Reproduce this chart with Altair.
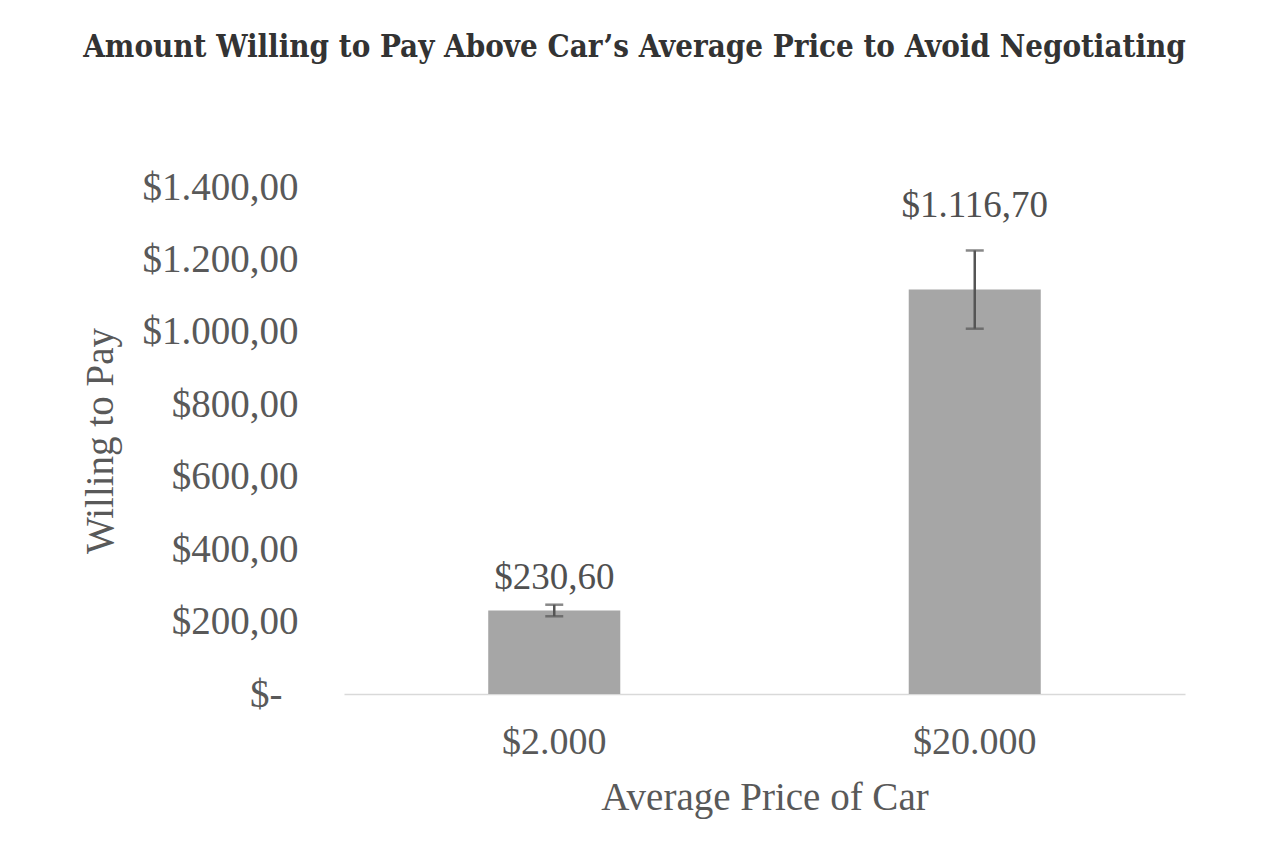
import altair as alt
import pandas as pd

categories = ["$2.000", "$20.000"]
values = [230.60, 1116.70]
errors = [16, 108]

def fmt(v):
    s = f"{v:,.2f}"
    return "$" + s.replace(",", "#").replace(".", ",").replace("#", ".")

df = pd.DataFrame({
    "cat": categories,
    "val": values,
    "lo": [v - e for v, e in zip(values, errors)],
    "hi": [v + e for v, e in zip(values, errors)],
    "label": [fmt(v) for v in values],
})

SERIF = "Liberation Serif"
AX = "#595959"

x = alt.X("cat:N", sort=categories, title="Average Price of Car",
          scale=alt.Scale(paddingInner=0.686, paddingOuter=0.343),
          axis=alt.Axis(labelAngle=0, labelFont=SERIF, labelFontSize=38, labelColor=AX,
                        labelPadding=29, ticks=False, domainColor="#d9d9d9", domainWidth=1.5,
                        titleFont=SERIF, titleFontSize=39, titleFontWeight="normal",
                        titleColor=AX, titleY=103, titleBaseline="middle"))

y = alt.Y("val:Q", title="Willing to Pay",
          scale=alt.Scale(domain=[0, 1400], nice=False),
          axis=alt.Axis(values=[0, 200, 400, 600, 800, 1000, 1200, 1400],
                        labelExpr="datum.value == 0 ? '$-' : '$' + replace(replace(replace(format(datum.value, ',.2f'), ',', '#'), '.', ','), '#', '.')",
                        labelFont=SERIF, labelFontSize=39, labelColor=AX,
                        labelPadding={"condition": {"test": "datum.value == 0", "value": 62}, "value": 46},
                        ticks=False, domain=False, grid=False,
                        titleFont=SERIF, titleFontSize=39, titleFontWeight="normal",
                        titleColor=AX, titleX=-244, titleBaseline="middle"))

base = alt.Chart(df)

bars = base.mark_bar(color="#a6a6a6").encode(x=x, y=y)
rules = base.mark_rule(color="#555555", strokeWidth=2.5).encode(
    x=alt.X("cat:N", sort=categories), y="lo:Q", y2="hi:Q")
caps_lo = base.mark_tick(color="#555555", thickness=2.5, size=18, orient="horizontal").encode(
    x=alt.X("cat:N", sort=categories), y="lo:Q")
caps_hi = base.mark_tick(color="#555555", thickness=2.5, size=18, orient="horizontal").encode(
    x=alt.X("cat:N", sort=categories), y="hi:Q")
lab1 = base.transform_filter(alt.datum.cat == categories[0]).mark_text(
    font=SERIF, fontSize=37, color="#505050", baseline="alphabetic", dy=-16).encode(
    x=alt.X("cat:N", sort=categories), y="hi:Q", text="label:N")
lab2 = base.transform_filter(alt.datum.cat == categories[1]).mark_text(
    font=SERIF, fontSize=37, color="#505050", baseline="alphabetic", dy=-33).encode(
    x=alt.X("cat:N", sort=categories), y="hi:Q", text="label:N")

chart = alt.layer(bars, rules, caps_lo, caps_hi, lab1, lab2).properties(
    width=841, height=507,
    background="white",
    autosize=alt.AutoSizeParams(type="none"),
    padding={"left": 336, "top": 179, "right": 80, "bottom": 140},
    title=alt.TitleParams(
        "Amount Willing to Pay Above Car\u2019s Average Price to Avoid Negotiating",
        font="DejaVu Serif Condensed, DejaVu Serif", fontSize=31, fontWeight="bold",
        color="#333333", anchor="middle", dx=-130, offset=104),
).configure_view(strokeWidth=0, stroke="transparent")

chart.save("out.html", embed_options={"renderer": "svg", "actions": False})
